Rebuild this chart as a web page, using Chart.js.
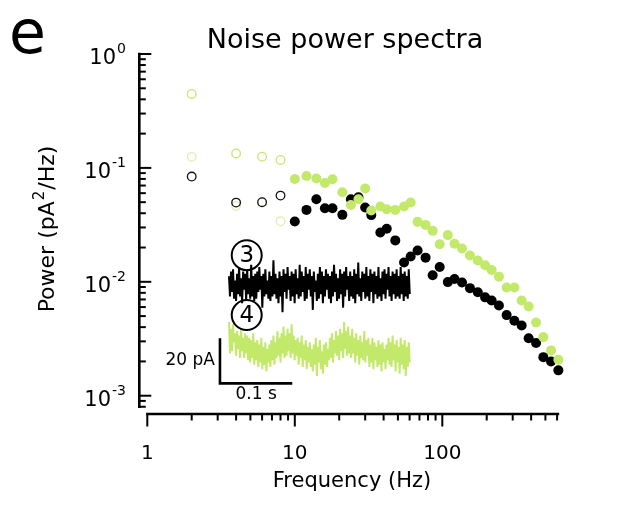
<!DOCTYPE html>
<html>
<head>
<meta charset="utf-8">
<title>Noise power spectra</title>
<script src="https://cdn.jsdelivr.net/npm/chart.js@4.4.1/dist/chart.umd.min.js"></script>
<style>
  html, body { margin: 0; padding: 0; background: #fff; }
  canvas { display: block; }
</style>
</head>
<body>
<canvas id="spectraChart" width="621" height="508"></canvas>
<script>
// --- Spectra (Hz, pA^2/Hz) ---
const freqHz = [10, 12, 14, 16, 18, 21, 24, 27, 30, 33, 38, 42, 48, 55, 61, 68, 77, 86, 96, 109,
    121, 136, 154, 174, 195, 216, 242, 273, 308, 345, 385, 432, 484, 546, 612];
const powerBlack = [0.0338, 0.0428, 0.0531, 0.0443, 0.0443, 0.0387, 0.0531, 0.0553, 0.0449, 0.0385,
    0.0271, 0.0292, 0.0231, 0.0148, 0.0167, 0.0188, 0.0163, 0.0114, 0.0135, 0.00994,
    0.0106, 0.00986, 0.0088, 0.0081, 0.0073, 0.00686, 0.0062, 0.0051, 0.00455, 0.00414,
    0.0032, 0.0029, 0.00218, 0.0020, 0.00167];
const powerGreen = [0.080, 0.085, 0.0806, 0.0738, 0.0796, 0.0612, 0.0473, 0.0531, 0.0659, 0.0422,
    0.0458, 0.0434, 0.0428, 0.0458, 0.0497, 0.0336, 0.0316, 0.028, 0.0214, 0.0257,
    0.0216, 0.0196, 0.0170, 0.0154, 0.0140, 0.0127, 0.0111, 0.0089, 0.0089, 0.00686,
    0.00608, 0.0044, 0.00327, 0.0025, 0.00207];

// low frequency points (open circles)
const lowFreqHz = [2, 4, 6, 8];
const lowPowerBlack = [0.084, 0.0496, 0.050, 0.0571];
const lowPowerGreen = [0.446, 0.134, 0.1256, 0.1175];
const lowPowerPale = [0.125, 0.0464, 0.050, 0.034];

// --- Inset current traces (pA, deviation from baseline) ---
const traceBlack = [4, -5, 6, -3, 7, -6, 2, -7, 5, -4, 8, -5, 3, -8, 6, -2, 5, -7, 7, -4,
    3, -6, 9, -5, 4, -7, 5, -6, 6, -3, 8, -2, 4, -10, 5, -5, 7, -4, 2, -6,
    6, -7, 4, -5, 11, -4, 5, -6, 3, -8, 6, -5, 4, -12, 7, -3, 5, -6, 8, -2,
    4, -7, 6, -5, 5, -8, 7, -4, 3, -6, 9, -5, 6, -3, 4, -7, 8, -6, 5, -2,
    7, -5, 4, -11, 6, -3, 2, -7, 5, -6, 8, -4, 6, -8, 4, -5, 7, -2, 5, -6,
    4, -8, 6, -5, 9, -3, 5, -7, 3, -6, 7, -4, 5, -10, 6, -5, 8, -2, 4, -7,
    6, -5, 4, -6, 7, -8, 5, -4, 10, -5, 3, -7, 6, -3, 5, -6, 8, -5, 4, -7,
    7, -3, 5, -8, 6, -4, 4, -6, 8, -5, 3, -7, 6, -4, 7, -6, 5, -2, 8, -5,
    4, -7, 6, -4, 5, -6, 7, -5, 4, -6, 8, -4, 5, -7, 6, -5, 4, -6, 7, -4];
const traceGreen = [12, -2, 9, -1, 11, 3, 7, -3, 8, 0, 6, -4, 9, -1, 5, -4, 7, -2, 6, -5,
    5, -6, 4, -4, 7, -7, 3, -5, 4, -8, 2, -6, 5, -9, 1, -7, 3, -10, 0, -6,
    2, -8, 4, -5, 6, -7, 3, -4, 8, -3, 5, -6, 7, -2, 10, -4, 6, -3, 9, -1,
    7, -4, 11, -2, 6, -5, 4, -3, 5, -7, 3, -4, 6, -8, 2, -5, 4, -9, 1, -6,
    3, -8, 0, -10, 2, -7, 5, -12, 1, -6, 4, -9, -1, -11, 2, -7, 3, -8, 0, -5,
    5, -4, 7, -6, 4, -2, 8, -3, 6, -5, 9, -1, 7, -4, 12, 0, 8, -3, 10, -2,
    6, -4, 9, -2, 5, -6, 7, -3, 4, -7, 6, -4, 3, -5, 8, -6, 4, -3, 5, -8,
    2, -6, 5, -9, 3, -5, 1, -8, 4, -7, 2, -10, 3, -6, 0, -9, 2, -5, 5, -7,
    3, -8, 6, -5, 2, -10, 4, -6, 1, -11, 5, -7, 2, -9, 4, -12, 1, -8, 3, -6];
const traceDurationSec = 0.25;
const traceLabels = ['3', '4'];

// scale bar: 20 pA by 0.1 s
const scaleBarT = [-0.0125, -0.0125, 0.0875];
const scaleBarI = [4.76, -15.24, -15.24];

// --- Axis ticks ---
const xTickValues = [1, 10, 100];
const xTickLabels = ['1', '10', '100'];
const yTickExponents = [0, -1, -2, -3];

const GREEN = '#c3e96b';
const PALE = '#dcefb2';
const FONT = '"DejaVu Sans", Verdana, sans-serif';

function toPoints(xs, ys) {
    return xs.map((x, i) => ({ x: x, y: ys[i] }));
}

function traceToPoints(values) {
    const dt = traceDurationSec / (values.length - 1);
    return values.map((v, i) => ({ x: i * dt, y: v }));
}

// --- Axes, tick marks and all text ---
const igorFrame = {
    id: 'igorFrame',
    afterDraw(chart) {
        const { ctx, chartArea } = chart;
        const xs = chart.scales.x;
        const ys = chart.scales.y;
        ctx.save();
        ctx.strokeStyle = '#000';
        ctx.fillStyle = '#000';
        ctx.lineCap = 'butt';

        // y axis (ticks point right)
        const axX = chartArea.left - 8;
        ctx.lineWidth = 2.6;
        ctx.beginPath();
        ctx.moveTo(axX, ys.getPixelForValue(1) - 1.3);
        ctx.lineTo(axX, chartArea.bottom);
        ctx.stroke();
        ctx.lineWidth = 2;
        for (let k = -4; k <= 0; k++) {
            for (let m = 1; m <= 9; m++) {
                const v = m * Math.pow(10, k);
                if (v < ys.min * 0.999 || v > ys.max * 1.001) continue;
                const py = ys.getPixelForValue(v);
                const len = m === 1 ? 12 : 6.5;
                ctx.beginPath();
                ctx.moveTo(axX, py);
                ctx.lineTo(axX + len, py);
                ctx.stroke();
            }
        }

        // x axis (ticks point down)
        const axY = chartArea.bottom + 6;
        ctx.lineWidth = 2.6;
        ctx.beginPath();
        ctx.moveTo(xs.getPixelForValue(1) - 1.2, axY);
        ctx.lineTo(xs.getPixelForValue(xs.max), axY);
        ctx.stroke();
        ctx.lineWidth = 2;
        for (let k = 0; k <= 2; k++) {
            for (let m = 1; m <= 9; m++) {
                const v = m * Math.pow(10, k);
                if (v > xs.max) continue;
                const px = xs.getPixelForValue(v);
                const len = m === 1 ? 12.5 : 6.5;
                ctx.beginPath();
                ctx.moveTo(px, axY);
                ctx.lineTo(px, axY + len);
                ctx.stroke();
            }
        }

        // x tick labels
        ctx.font = '20px ' + FONT;
        ctx.textAlign = 'center';
        ctx.textBaseline = 'alphabetic';
        xTickValues.forEach((v, i) => {
            ctx.fillText(xTickLabels[i], xs.getPixelForValue(v), 459);
        });

        // y tick labels: 10 with superscript exponent
        yTickExponents.forEach((e) => {
            const py = ys.getPixelForValue(Math.pow(10, e));
            const right = 126;
            ctx.font = '14px ' + FONT;
            const sup = String(e);
            const supW = ctx.measureText(sup).width;
            ctx.textAlign = 'left';
            ctx.fillText(sup, right - supW, py - 1);
            ctx.font = '21px ' + FONT;
            const baseW = ctx.measureText('10').width;
            ctx.fillText('10', right - supW - baseW - 1, py + 10);
        });

        // axis titles
        ctx.font = '21px ' + FONT;
        ctx.textAlign = 'center';
        ctx.fillText('Frequency (Hz)', 352, 487);

        ctx.save();
        ctx.translate(54, 229);
        ctx.rotate(-Math.PI / 2);
        ctx.font = '22px ' + FONT;
        const partA = 'Power (pA', partB = '/Hz)';
        const wA = ctx.measureText(partA).width;
        const wB = ctx.measureText(partB).width;
        ctx.font = '15px ' + FONT;
        const w2 = ctx.measureText('2').width;
        const total = wA + w2 + wB + 2;
        let cx = -total / 2;
        ctx.textAlign = 'left';
        ctx.font = '22px ' + FONT;
        ctx.fillText(partA, cx, 0);
        cx += wA + 1;
        ctx.font = '15px ' + FONT;
        ctx.fillText('2', cx, -10);
        cx += w2 + 1;
        ctx.font = '22px ' + FONT;
        ctx.fillText(partB, cx, 0);
        ctx.restore();

        // title and panel letter
        ctx.font = '27px ' + FONT;
        ctx.textAlign = 'center';
        ctx.fillText('Noise power spectra', 345, 48);
        ctx.font = '60px ' + FONT;
        ctx.textAlign = 'left';
        ctx.fillText('e', 9, 53);

        // circled trace numbers
        const xt = chart.scales.xTrace;
        const cxPix = xt.getPixelForValue(0.0245);
        [chart.scales.yTrace3, chart.scales.yTrace4].forEach((sc, i) => {
            const cy = sc.getPixelForValue(i === 0 ? 13.3 : 15.1);
            ctx.lineWidth = 2;
            ctx.beginPath();
            ctx.arc(cxPix, cy, 15, 0, Math.PI * 2);
            ctx.stroke();
            ctx.font = '23px ' + FONT;
            ctx.textAlign = 'center';
            ctx.textBaseline = 'middle';
            ctx.fillText(traceLabels[i], cxPix, cy + 1);
        });

        // scale bar labels
        const yt4 = chart.scales.yTrace4;
        ctx.font = '17px ' + FONT;
        ctx.textBaseline = 'middle';
        ctx.textAlign = 'right';
        ctx.fillText('20 pA', xt.getPixelForValue(scaleBarT[0]) - 5,
            yt4.getPixelForValue((scaleBarI[0] + scaleBarI[1]) / 2));
        ctx.textAlign = 'center';
        ctx.fillText('0.1 s', xt.getPixelForValue((scaleBarT[1] + scaleBarT[2]) / 2),
            yt4.getPixelForValue(scaleBarI[2]) + 11);
        ctx.restore();
    }
};

document.addEventListener('DOMContentLoaded', () => {
    const ctx = document.getElementById('spectraChart').getContext('2d');

    const filled = (data, color, order) => ({
        data: data, order: order, clip: false,
        pointRadius: 5, pointHoverRadius: 5,
        pointBackgroundColor: color, pointBorderWidth: 0, showLine: false
    });
    const open = (data, color, order) => ({
        data: data, order: order, clip: false,
        pointRadius: 4.3, pointHoverRadius: 4.3,
        pointBackgroundColor: 'rgba(0,0,0,0)', pointBorderColor: color,
        pointBorderWidth: 1.3, showLine: false
    });
    const trace = (values, color, yAxisID) => ({
        type: 'line', data: traceToPoints(values), xAxisID: 'xTrace', yAxisID: yAxisID,
        borderColor: color, borderWidth: 2, pointRadius: 0, tension: 0, order: 5
    });

    new Chart(ctx, {
        type: 'scatter',
        data: {
            datasets: [
                filled(toPoints(freqHz, powerGreen), GREEN, 1),
                filled(toPoints(freqHz, powerBlack), '#000', 2),
                open(toPoints(lowFreqHz, lowPowerBlack), '#111', 3),
                open(toPoints(lowFreqHz, lowPowerGreen), GREEN, 3),
                open(toPoints(lowFreqHz, lowPowerPale), PALE, 3),
                trace(traceBlack, '#000', 'yTrace3'),
                trace(traceGreen, GREEN, 'yTrace4'),
                {
                    type: 'line', data: toPoints(scaleBarT, scaleBarI),
                    xAxisID: 'xTrace', yAxisID: 'yTrace4',
                    borderColor: '#000', borderWidth: 2.6, pointRadius: 0, order: 4
                }
            ]
        },
        options: {
            responsive: false,
            animation: false,
            events: [],
            layout: { padding: { left: 147.3, right: 61.8, top: 54, bottom: 100 } },
            plugins: { legend: { display: false }, tooltip: { enabled: false } },
            scales: {
                x: { type: 'logarithmic', min: 1, max: 620, bounds: 'data', display: false },
                y: { type: 'logarithmic', min: 0.00078, max: 1, bounds: 'data', display: false },
                xTrace: { type: 'linear', min: -0.113, max: 0.4567, display: false },
                yTrace3: { type: 'linear', min: -54.6, max: 102.7, display: false },
                yTrace4: { type: 'linear', min: -26.2, max: 131.1, display: false }
            }
        },
        plugins: [igorFrame]
    });
});
</script>
</body>
</html>
